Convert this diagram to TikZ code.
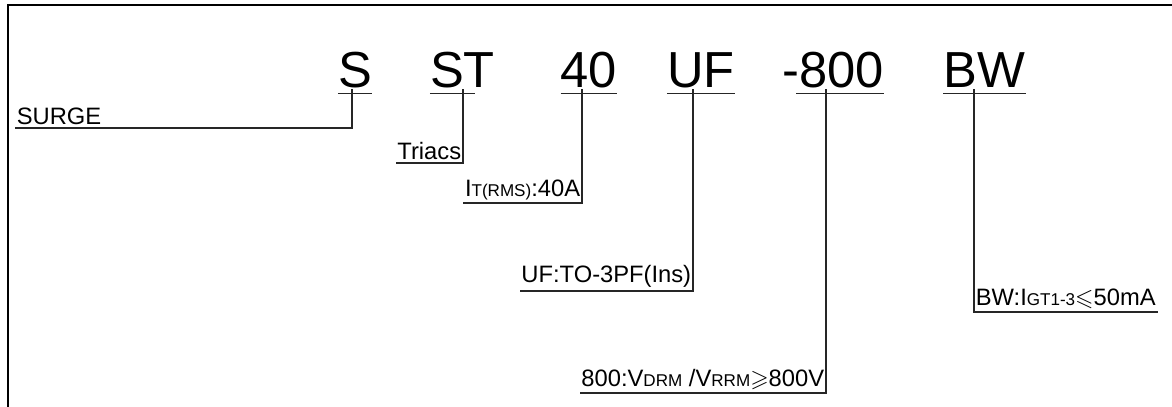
\documentclass[tikz,border=0pt]{standalone}
\usepackage{amssymb}
\usepackage{fontspec}
\setmainfont{Liberation Sans}
\tikzstyle{code}=[inner xsep=0pt, inner ysep=4.5pt, text depth=0pt, font=\fontsize{38}{40}\selectfont]
\tikzstyle{lbl}=[inner xsep=1.2pt, inner ysep=2.2pt, font=\fontsize{17.8}{20}\selectfont]
\tikzstyle{conn}=[draw, line width=1pt, black!85]
\tikzstyle{frame}=[draw, line width=1.9pt]
\newcommand{\idx}[1]{{\fontsize{12.8}{13}\selectfont #1}}

\begin{document}
\begin{tikzpicture}[x=0.75pt,y=-0.75pt]
                    \path [use as bounding box] (0,0) rectangle (1172,407);
                    \path[frame] (8,407) |- (1172,5);

                    \node[code, anchor=base] (s) at (355,87) {S};
                    \node[code, anchor=base] (st) at (462.5,87) {ST};
                    \node[code, anchor=base] (a40) at (589,87) {40};
                    \node[code, anchor=base] (uf) at (701,87) {UF};
                    \node[code, anchor=base] (v800) at (833,87) {-800};
                    \node[code, anchor=base] (bw) at (984.5,87) {BW};

                    \coordinate (tS) at (352,89);
                    \coordinate (tST) at (463,89);
                    \coordinate (t40) at (582,89);
                    \coordinate (tUF) at (693,89);
                    \coordinate (t800) at (826,89);
                    \coordinate (tBW) at (974,89);

                    \node[lbl, anchor=south west] (surge) at (15,128) {SURGE};
                    \node[lbl, anchor=south east] (triacs) at (463,163) {Triacs};
                    \node[lbl, anchor=south east] (rms) at (582,203) {I\idx{T(RMS)}:40A};
                    \node[lbl, anchor=south east] (pkg) at (693,291) {UF:TO-3PF(Ins)};
                    \node[lbl, anchor=south east] (vdrm) at (826,393) {800:V\idx{DRM} /V\idx{RRM}$\geqslant$800V};
                    \node[lbl, anchor=south west] (igt) at (974,312) {BW:I\idx{GT1-3}$\leqslant$50mA};

                    % underlines
                    \path[conn] (s.south west) -- (s.south east);
                    \path[conn] (st.south west) -- ([xshift=-15pt]st.south east);
                    \path[conn] (a40.south west) -- (a40.south east);
                    \path[conn] (uf.south west) -- (uf.south east);
                    \path[conn] ([xshift=10.5pt]v800.south west) -- (v800.south east);
                    \path[conn] (bw.south west) -- (bw.south east);

                    \path[conn] (tS) |- (surge.south west);
                    \path[conn] (tST) |- (triacs.south west);
                    \path[conn] (t40) |- (rms.south west);
                    \path[conn] (tUF) |- (pkg.south west);
                    \path[conn] (t800) |- (vdrm.south west);
                    \path[conn] (tBW) |- (igt.south east);
                \end{tikzpicture}
\end{document}
